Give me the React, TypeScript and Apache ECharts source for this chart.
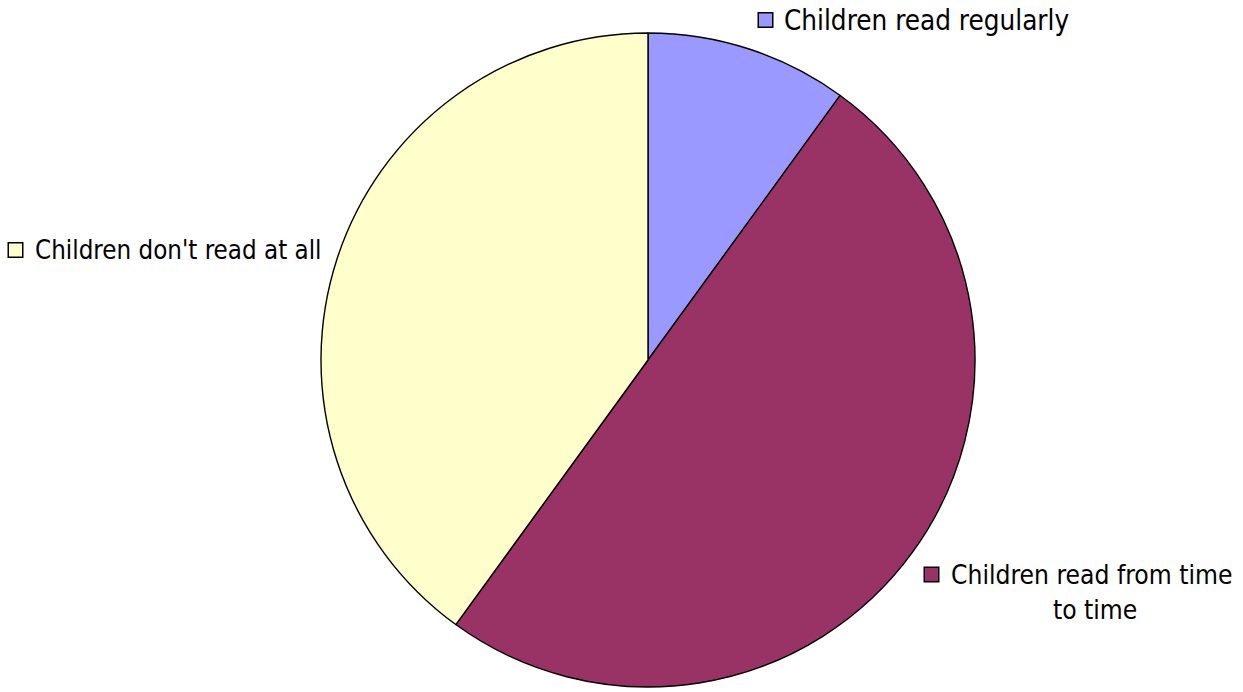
import React, { useEffect, useRef } from "react";
import * as echarts from "echarts";

const categories = [
  "Children read regularly",
  "Children read from time to time",
  "Children don't read at all",
];
const values = [10, 50, 40];
const colors = ["#9999FF", "#993366", "#FFFFCC"];

const FONT = "'DejaVu Sans Condensed', 'DejaVu Sans', sans-serif";

export default function App() {
  const ref = useRef<HTMLDivElement>(null);
  useEffect(() => {
    document.body.style.margin = "0";
    const chart = echarts.init(ref.current!, null, { renderer: "svg" });
    const labelPos = [
      { x: 759, y: 20 },
      { x: 925, y: 592 },
      { x: 9, y: 250 },
    ];
    const marker = (c: string) => ({
      width: 13,
      height: 13,
      backgroundColor: c,
      borderColor: "#000",
      borderWidth: 1.5,
    });
    const txt = (size: number, extra: any = {}) => ({
      fontFamily: FONT,
      fontSize: size,
      color: "#000",
      lineHeight: 35,
      ...extra,
    });
    chart.setOption({
      animation: false,
      backgroundColor: "#ffffff",
      series: [
        {
          type: "pie",
          center: [648, 360],
          radius: 327,
          startAngle: 90,
          clockwise: true,
          data: categories.map((name, i) => ({
            name,
            value: values[i],
            itemStyle: { color: colors[i] },
          })),
          itemStyle: { borderColor: "#000000", borderWidth: 1.4 },
          emphasis: { disabled: true },
          labelLine: { show: false },
          label: {
            show: true,
            overflow: "none",
            fontFamily: FONT,
            fontSize: 26,
            color: "#000000",
            align: "left",
            formatter: (p: any) => {
              const i = p.dataIndex;
              if (i === 1) {
                return "{m1|}{t1|Children read from time}\n{sp|}{c|to time}";
              }
              return "{m" + i + "|}{t" + i + "|" + p.name + "}";
            },
            rich: {
              m0: marker(colors[0]),
              m1: marker(colors[1]),
              m2: marker(colors[2]),
              t0: txt(27.6, { padding: [0, 0, 0, 12] }),
              t1: txt(26.2, { padding: [0, 0, 0, 13] }),
              t2: txt(25.7, { padding: [0, 0, 0, 13] }),
              sp: { width: 67, height: 1 },
              c: txt(26.2, { align: "center" }),
            },
          },
          labelLayout: (params: any) => {
            const pos = labelPos[params.dataIndex];
            return { x: pos.x, y: pos.y, align: "left", verticalAlign: "middle" };
          },
        },
      ],
    });
    return () => chart.dispose();
  }, []);
  return <div ref={ref} style={{ width: 1243, height: 692 }} />;
}
